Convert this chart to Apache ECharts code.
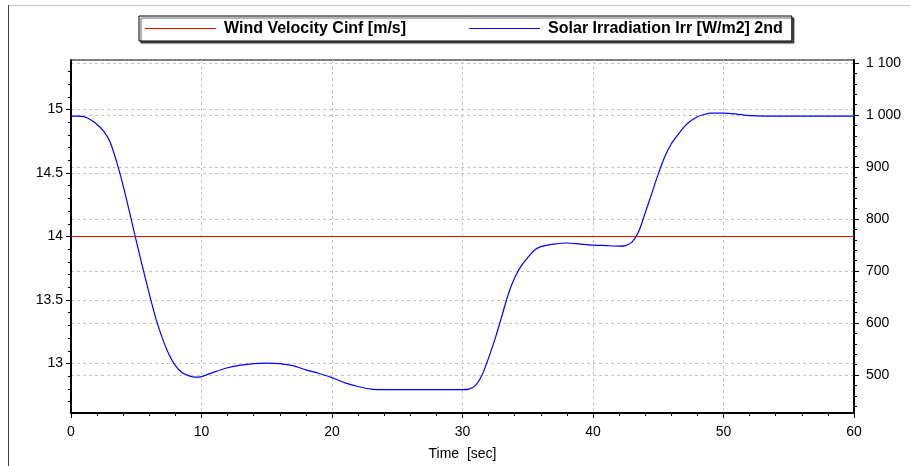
<!DOCTYPE html>
<html>
<head>
<meta charset="utf-8">
<script src="https://cdn.jsdelivr.net/npm/echarts@6/dist/echarts.min.js"></script>
<style>
  html, body { margin: 0; padding: 0; background: #fff; }
  #chart { width: 910px; height: 466px; }
</style>
</head>
<body>
<div id="chart"></div>
<script>
// blue curve (right axis, W/m2)
const timeSec = [0, 0.5, 1, 1.5, 2, 2.5, 3, 3.5, 4, 4.5, 5, 5.5, 6, 6.5, 7, 7.5, 8, 8.5, 9, 9.5,
  10, 11, 12, 13, 14, 15, 16, 17, 18, 19, 20, 21, 22, 23, 24, 26, 28, 30, 30.5, 31, 31.5, 32,
  32.5, 33, 33.5, 34, 34.5, 35, 35.5, 36, 37, 38, 39, 40, 41, 42, 42.5, 43, 43.5, 44, 44.5,
  45, 45.5, 46, 46.5, 47, 47.5, 48, 48.5, 49, 50, 51, 52, 55, 60];
const irradiation = [998, 998, 997, 991, 982, 969, 948, 910, 864, 812, 758, 706, 656, 609, 571, 540, 518, 505, 499, 496,
  497, 506, 514, 519, 522, 523, 522, 518, 510, 503, 495, 485, 478, 473, 472, 472, 472, 472, 473, 480, 500, 533,
  570, 612, 655, 687, 710, 726, 740, 747, 752, 754, 752, 750, 749, 748, 749, 756, 776, 812, 849,
  887, 920, 945, 962, 978, 989, 997, 1001, 1004, 1004, 1002, 999, 998, 998];

// red line (left axis, m/s)
const windTime = [0, 60];
const windVelocity = [14, 14];

const leftLabels = [13, 13.5, 14, 14.5, 15];
const rightLabels = [500, 600, 700, 800, 900, 1000, 1100];

function steps(from, to, step) {
  let out = [];
  for (let v = from; v <= to + step / 2; v += step) {
    out.push(Math.round(v * 1000) / 1000);
  }
  return out;
}
const leftMinor = steps(12.7, 15.3, 0.1);
const rightMinor = steps(440, 1100, 20);

const font = "'Liberation Sans', Arial, sans-serif";
const gridLine = { show: true, lineStyle: { color: '#c4c4c4', width: 1, type: [3, 3] } };

function zip(xs, ys) {
  let out = [];
  for (var i = 0; i < xs.length; i++) {
    out.push([xs[i], ys[i]]);
  }
  return out;
}

function spaced(v) {
  return String(v).replace(/\B(?=(\d{3})+(?!\d))/g, ' ');
}

const option = {
  animation: false,
  backgroundColor: '#fff',
  graphic: [
    { type: 'line', shape: { x1: 8, y1: 5.5, x2: 910, y2: 5.5 }, style: { stroke: '#c8c8c8', lineWidth: 1 } },
    { type: 'line', shape: { x1: 8.5, y1: 5, x2: 8.5, y2: 466 }, style: { stroke: '#404040', lineWidth: 1 } }
  ],
  legend: {
    left: 139,
    top: 16,
    padding: [4, 9, 4, 6],
    itemGap: 63,
    itemWidth: 71,
    itemHeight: 1,
    icon: 'rect',
    backgroundColor: '#fff',
    borderColor: '#000',
    borderWidth: 1,
    shadowColor: 'rgba(0,0,0,0.65)',
    shadowBlur: 1,
    shadowOffsetX: 2,
    shadowOffsetY: 2,
    textStyle: { fontFamily: font, fontSize: 16, lineHeight: 17, fontWeight: 'bold', color: '#000', padding: [0, 0, 0, 3] },
    data: ['Wind Velocity Cinf [m/s]', 'Solar Irradiation Irr [W/m2] 2nd']
  },
  grid: {
    left: 71,
    right: 56,
    top: 60,
    bottom: 49,
    show: true,
    borderColor: '#000',
    borderWidth: 1
  },
  xAxis: {
    type: 'value',
    min: 0,
    max: 60,
    interval: 10,
    name: 'Time  [sec]',
    nameLocation: 'middle',
    nameGap: 34,
    nameTextStyle: { fontFamily: font, fontSize: 14, color: '#000' },
    axisLine: { show: true, lineStyle: { color: '#000', width: 2 } },
    axisTick: { show: true, length: 5, lineStyle: { color: '#000' } },
    minorTick: { show: true, splitNumber: 5, length: 3, lineStyle: { color: '#000' } },
    axisLabel: { margin: 12, fontFamily: font, fontSize: 14, color: '#000' },
    splitLine: gridLine
  },
  yAxis: [
    {
      type: 'value',
      position: 'left',
      min: 12.61,
      max: 15.39,
      axisLine: { show: true, lineStyle: { color: '#000', width: 2 } },
      axisTick: { show: true, customValues: leftLabels, length: 5, lineStyle: { color: '#000' } },
      axisLabel: { customValues: leftLabels, margin: 8, fontFamily: font, fontSize: 14, color: '#000' },
      splitLine: gridLine
    },
    {
      type: 'value',
      position: 'right',
      min: 427,
      max: 1106,
      axisLine: { show: true, lineStyle: { color: '#000', width: 2 } },
      axisTick: { show: true, customValues: rightLabels, length: 5, lineStyle: { color: '#000' } },
      axisLabel: { customValues: rightLabels, margin: 12, fontFamily: font, fontSize: 14, color: '#000', formatter: spaced },
      splitLine: gridLine
    },
    {
      type: 'value',
      position: 'left',
      min: 12.61,
      max: 15.39,
      axisLine: { show: false },
      axisTick: { show: true, customValues: leftMinor, length: 3, lineStyle: { color: '#000' } },
      axisLabel: { show: false },
      splitLine: { show: false }
    },
    {
      type: 'value',
      position: 'right',
      min: 427,
      max: 1106,
      axisLine: { show: false },
      axisTick: { show: true, customValues: rightMinor, length: 3, lineStyle: { color: '#000' } },
      axisLabel: { show: false },
      splitLine: { show: false }
    }
  ],
  series: [
    {
      name: 'Wind Velocity Cinf [m/s]',
      type: 'line',
      yAxisIndex: 0,
      symbol: 'none',
      lineStyle: { color: '#ff0000', width: 1 },
      itemStyle: { color: '#ff0000' },
      data: zip(windTime, windVelocity)
    },
    {
      name: 'Solar Irradiation Irr [W/m2] 2nd',
      type: 'line',
      yAxisIndex: 1,
      symbol: 'none',
      smooth: 0.25,
      lineStyle: { color: '#0000ff', width: 1.2 },
      itemStyle: { color: '#0000ff' },
      data: zip(timeSec, irradiation)
    }
  ]
};

var myChart = echarts.init(document.getElementById('chart'));
myChart.setOption(option);
</script>
</body>
</html>
